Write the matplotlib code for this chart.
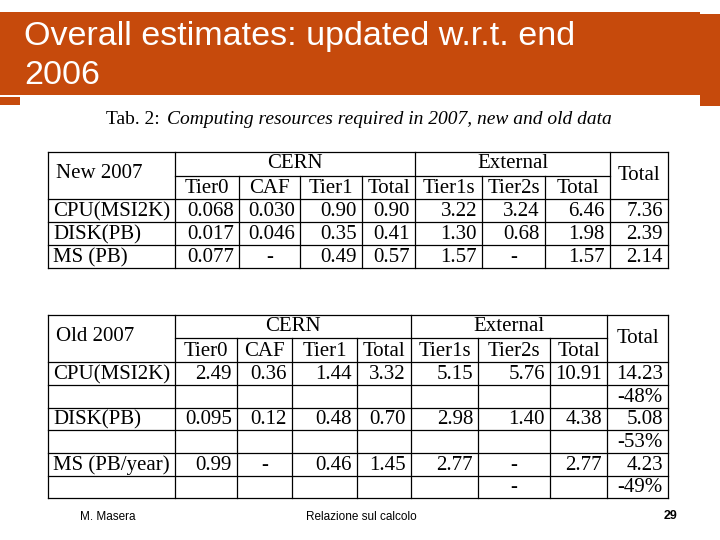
import matplotlib
matplotlib.use("Agg")
import matplotlib.pyplot as plt

title = "Overall estimates: updated w.r.t. end\n2006"
caption_plain = "Tab. 2:"
caption_italic = "Computing resources required in 2007, new and old data"
sub_headers = ["Tier0", "CAF", "Tier1", "Total", "Tier1s", "Tier2s", "Total"]
groups = ["CERN", "External"]

new_label = "New 2007"
new_rows = ["CPU(MSI2K)", "DISK(PB)", "MS (PB)"]
new_values = [
    ["0.068", "0.030", "0.90", "0.90", "3.22", "3.24", "6.46", "7.36"],
    ["0.017", "0.046", "0.35", "0.41", "1.30", "0.68", "1.98", "2.39"],
    ["0.077", "-", "0.49", "0.57", "1.57", "-", "1.57", "2.14"],
]

old_label = "Old 2007"
old_rows = ["CPU(MSI2K)", "", "DISK(PB)", "", "MS (PB/year)", ""]
old_values = [
    ["2.49", "0.36", "1.44", "3.32", "5.15", "5.76", "10.91", "14.23"],
    ["", "", "", "", "", "", "", "-48%"],
    ["0.095", "0.12", "0.48", "0.70", "2.98", "1.40", "4.38", "5.08"],
    ["", "", "", "", "", "", "", "-53%"],
    ["0.99", "-", "0.46", "1.45", "2.77", "-", "2.77", "4.23"],
    ["", "", "", "", "", "-", "", "-49%"],
]
footer_left = "M. Masera"
footer_mid = "Relazione sul calcolo"
footer_page = "29"

ORANGE = "#C64A0C"
SERIF = "Liberation Serif"
FS = 15

fig = plt.figure(figsize=(7.2, 5.4), dpi=100)
ax = fig.add_axes([0, 0, 1, 1])
ax.set_xlim(0, 720)
ax.set_ylim(540, 0)
ax.axis("off")

# title bar
ax.add_patch(plt.Rectangle((0, 12), 700, 83, color=ORANGE, lw=0))
ax.add_patch(plt.Rectangle((0, 97), 20, 8, color=ORANGE, lw=0))
ax.add_patch(plt.Rectangle((700, 14), 20, 92, color=ORANGE, lw=0))
ax.text(24, 56, title, color="white", fontsize=24.5, family="Liberation Sans",
        va="center", ha="left", linespacing=1.35)

ax.text(106, 119, caption_plain, fontsize=14, family=SERIF, va="center", ha="left")
ax.text(167, 119, caption_italic, fontsize=14, family=SERIF, style="italic",
        va="center", ha="left")


def draw_table(xs, ys, label, rows, values, lw=0.9):
    left, right = xs[0], xs[-1]
    top = ys[0]
    hb = ys[2]
    bottom = ys[-1]
    k = dict(color="black", lw=lw)
    ax.plot([left, right], [top, top], **k)
    ax.plot([xs[1], xs[8]], [ys[1], ys[1]], **k)
    for y in ys[2:]:
        ax.plot([left, right], [y, y], **k)
    for i, x in enumerate(xs):
        if i in (0, 1, 5, 8, 9):
            ax.plot([x, x], [top, bottom], **k)
        else:
            ax.plot([x, x], [ys[1], bottom], **k)
    ax.text(left + 8, (top + hb) / 2 - 2, label, fontsize=FS, family=SERIF,
            ha="left", va="center")
    ax.text((xs[1] + xs[5]) / 2, (top + ys[1]) / 2, groups[0], fontsize=FS,
            family=SERIF, ha="center", va="center")
    ax.text((xs[5] + xs[8]) / 2, (top + ys[1]) / 2, groups[1], fontsize=FS,
            family=SERIF, ha="center", va="center")
    ax.text((xs[8] + xs[9]) / 2, (top + hb) / 2, "Total", fontsize=FS,
            family=SERIF, ha="center", va="center")
    for j, h in enumerate(sub_headers):
        ax.text((xs[1 + j] + xs[2 + j]) / 2, (ys[1] + hb) / 2 + 1, h, fontsize=FS,
                family=SERIF, ha="center", va="center")
    for r, (name, vals) in enumerate(zip(rows, values)):
        yc = (ys[2 + r] + ys[3 + r]) / 2 + 1
        ax.text(left + 5, yc, name, fontsize=FS, family=SERIF, ha="left", va="center")
        for j, v in enumerate(vals):
            if v == "-":
                ax.text((xs[1 + j] + xs[2 + j]) / 2, yc, v, fontsize=FS,
                        family=SERIF, ha="center", va="center")
            elif v:
                ax.text(xs[2 + j] - 5, yc, v, fontsize=FS, family=SERIF,
                        ha="right", va="center")


new_xs = [48, 175, 239, 300, 362, 415, 482, 545, 610, 668]
new_ys = [152, 176, 199, 222, 245, 268]
draw_table(new_xs, new_ys, new_label, new_rows, new_values)

old_xs = [48, 175, 237, 292, 357, 411, 478, 550, 607, 668]
old_ys = [315, 338, 362, 385, 408, 430, 453, 476, 498]
draw_table(old_xs, old_ys, old_label, old_rows, old_values)

ax.text(80, 517, footer_left, fontsize=8.5, family="Liberation Sans", va="center")
ax.text(361, 517, footer_mid, fontsize=8.5, family="Liberation Sans",
        va="center", ha="center")
ax.text(677, 516, footer_page, fontsize=9, family="Liberation Sans",
        va="center", ha="right", fontweight="bold")

fig.savefig("out.png", dpi=100)
